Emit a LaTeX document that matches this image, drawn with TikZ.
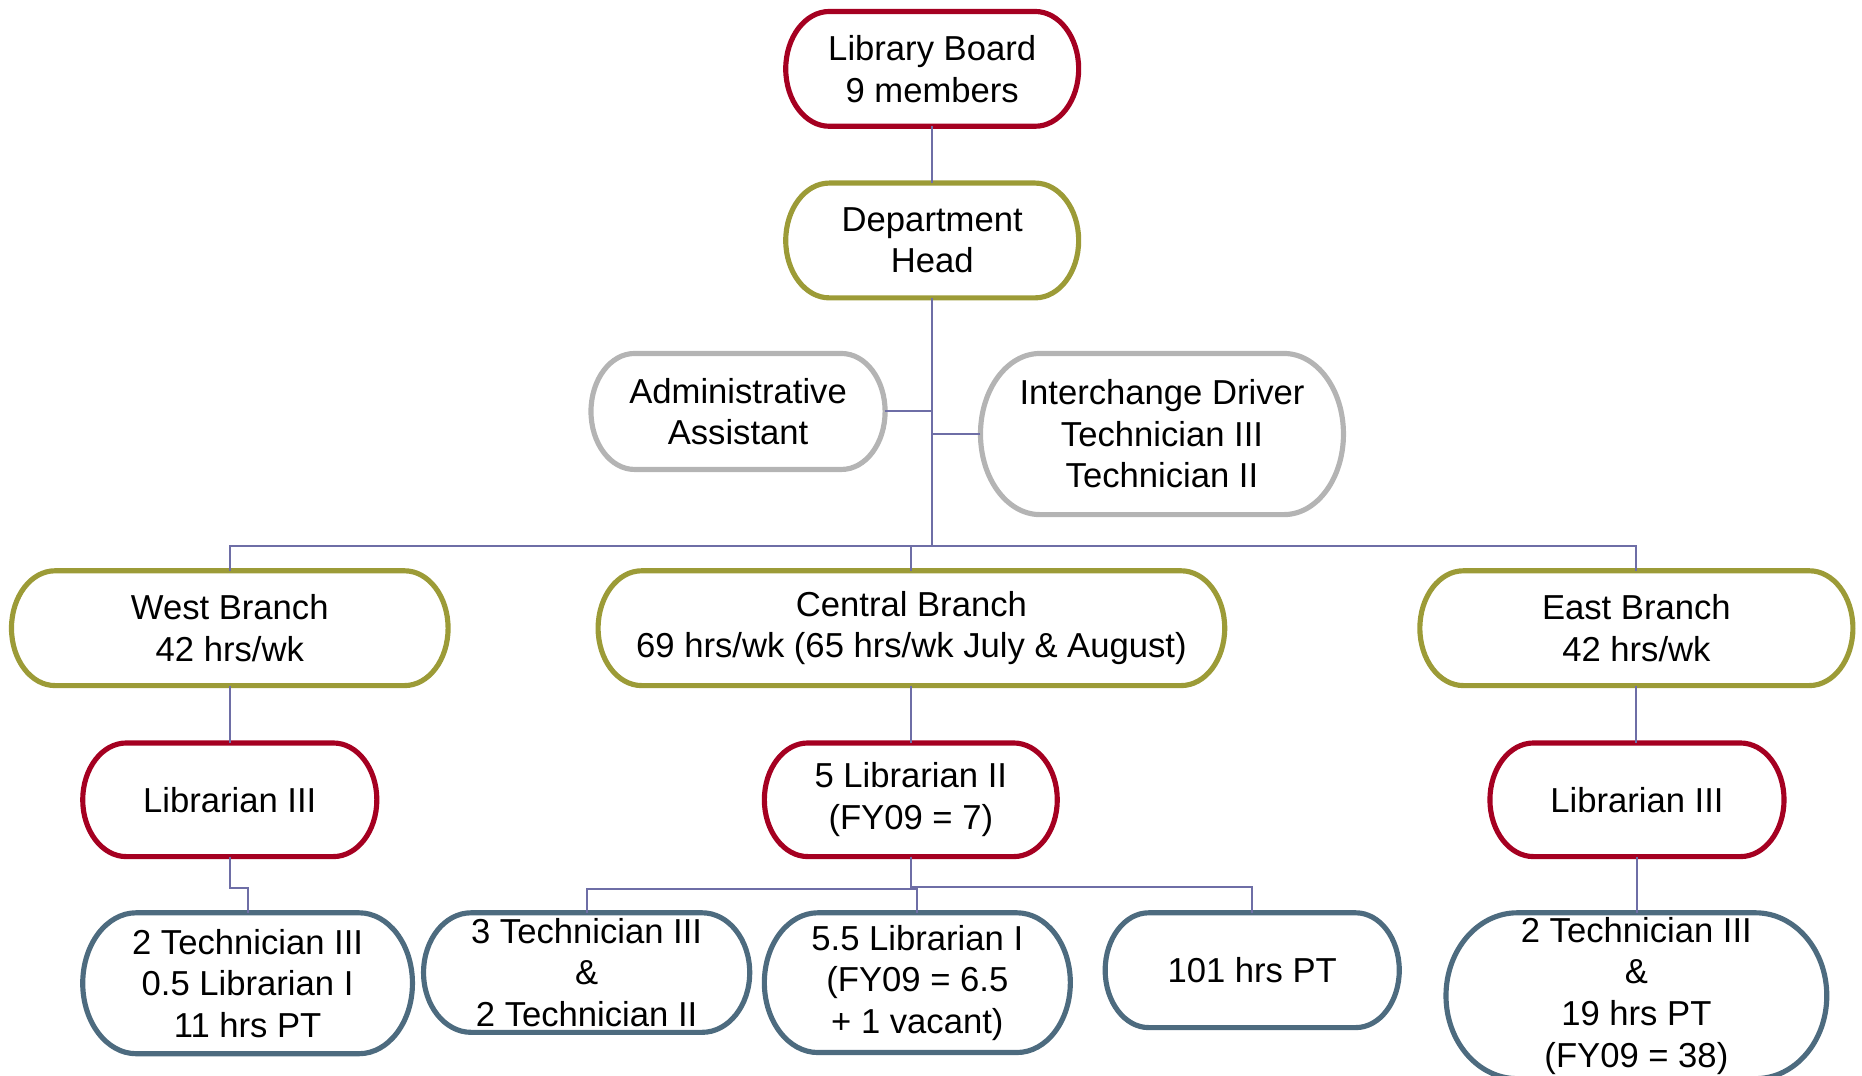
\documentclass[tikz,border=0pt]{standalone}
\usepackage{fontspec}
\setmainfont{Liberation Sans}
\usetikzlibrary{calc}
\definecolor{boardred}{HTML}{A50021}
\definecolor{olivec}{HTML}{9C9B37}
\definecolor{grayc}{HTML}{B4B4B4}
\definecolor{slatec}{HTML}{4D6B7F}
\definecolor{linec}{HTML}{6E6EA6}
\newcommand\pillpath[3]{%
  \draw[#2] let \p1=(#1.north east), \p2=(#1.south west), \n1={(\y1-\y2)/2} in
   (\x2+#3,\y1) -- (\x1-#3,\y1)
   arc[start angle=90,end angle=-90,x radius=#3,y radius={\n1*1pt}]
   -- (\x2+#3,\y2)
   arc[start angle=270,end angle=90,x radius=#3,y radius={\n1*1pt}] -- cycle;}
\begin{document}
\begin{tikzpicture}[x=0.6pt,y=-0.6pt,
  box/.style={align=center, inner sep=0pt, font=\fontsize{17.5}{21}\selectfont},
  pill/.style={line width=2.6pt},
  redpill/.style={pill, draw=boardred},
  olivepill/.style={pill, draw=olivec},
  graypill/.style={pill, draw=grayc},
  slatepill/.style={pill, draw=slatec},
  conn/.style={draw=linec, line width=1pt}]
\useasboundingbox (0,0) rectangle (1568,906);
\clip (0,0) rectangle (1568,906);
% nodes
\node[box, minimum width=147.6pt, minimum height=57.6pt] (lb) at (785,58) {Library Board\\9 members};
\node[box, minimum width=147.6pt, minimum height=57.6pt] (dh) at (785,202.5) {Department\\Head};
\node[box, minimum width=148.2pt, minimum height=58.2pt] (aa) at (621.5,346.5) {Administrative\\Assistant};
\node[box, minimum width=183pt, minimum height=81pt] (ic) at (978.5,365.5) {Interchange Driver\\Technician III\\Technician II};
\node[box, minimum width=220.2pt, minimum height=57.6pt] (wb) at (193.5,529) {West Branch\\42 hrs/wk};
\node[box, minimum width=316.2pt, minimum height=57.6pt] (cb) at (767.5,529) {Central Branch\\69 hrs/wk (65 hrs/wk July \& August)};
\node[box, minimum width=218.4pt, minimum height=57.6pt] (eb) at (1378,529) {East Branch\\42 hrs/wk};
\node[box, minimum width=148.2pt, minimum height=57pt] (wl) at (193.5,673.5) {Librarian III};
\node[box, minimum width=147.6pt, minimum height=57pt] (cl) at (767,673.5) {5 Librarian II\\(FY09 = 7)};
\node[box, minimum width=148.2pt, minimum height=57pt] (el) at (1378.5,673.5) {Librarian III};
\node[box, minimum width=166.2pt, minimum height=70.8pt] (wt) at (208.5,828) {2 Technician III\\0.5 Librarian I\\11 hrs PT};
\node[box, minimum width=164.4pt, minimum height=60pt] (ct) at (494,819) {3 Technician III\\\&\\2 Technician II};
\node[box, minimum width=154.2pt, minimum height=70.2pt] (ml) at (772.5,827.5) {5.5 Librarian I\\(FY09 = 6.5\\+ 1 vacant)};
\node[box, minimum width=148.2pt, minimum height=57.6pt] (pt) at (1054.5,817) {101 hrs PT};
\node[box, minimum width=192pt, minimum height=83.4pt] (et) at (1378,838.5) {2 Technician III\\\&\\19 hrs PT\\(FY09 = 38)};
% outlines
\pillpath{lb}{redpill}{22pt}
\pillpath{dh}{olivepill}{22pt}
\pillpath{aa}{graypill}{22pt}
\pillpath{ic}{graypill}{30pt}
\pillpath{wb}{olivepill}{22pt}
\pillpath{cb}{olivepill}{22pt}
\pillpath{eb}{olivepill}{22pt}
\pillpath{wl}{redpill}{22pt}
\pillpath{cl}{redpill}{22pt}
\pillpath{el}{redpill}{22pt}
\pillpath{wt}{slatepill}{27pt}
\pillpath{ct}{slatepill}{24pt}
\pillpath{ml}{slatepill}{27pt}
\pillpath{pt}{slatepill}{22pt}
\pillpath{et}{slatepill}{36pt}
% coordinates
\coordinate (j1) at (dh.south |- 0,460);
\coordinate (jw) at (wt.north |- 0,748);
\coordinate (jc) at (cl.south |- 0,747);
\coordinate (jc2) at (ml.north |- 0,749);
% connectors
\draw[conn] (lb.south) -- (dh.north);
\draw[conn] (dh.south) -- (j1);
\draw[conn] (aa.east) -- (aa.east -| dh.south);
\draw[conn] (ic.west) -- (ic.west -| dh.south);
\draw[conn] (wb.north) |- (j1) -| (eb.north);
\draw[conn] (cb.north) -- (cb.north |- j1);
\draw[conn] (wb.south) -- (wl.north);
\draw[conn] (cb.south) -- (cb.south |- cl.north);
\draw[conn] (eb.south) -- (eb.south |- el.north);
\draw[conn] (wl.south) |- (jw) -- (wt.north);
\draw[conn] (cl.south) -- (jc) -| (pt.north);
\draw[conn] (jc) |- (jc2);
\draw[conn] (ct.north) |- (jc2) -- (ml.north);
\draw[conn] (el.south) -- (el.south |- et.north);
\end{tikzpicture}
\end{document}
